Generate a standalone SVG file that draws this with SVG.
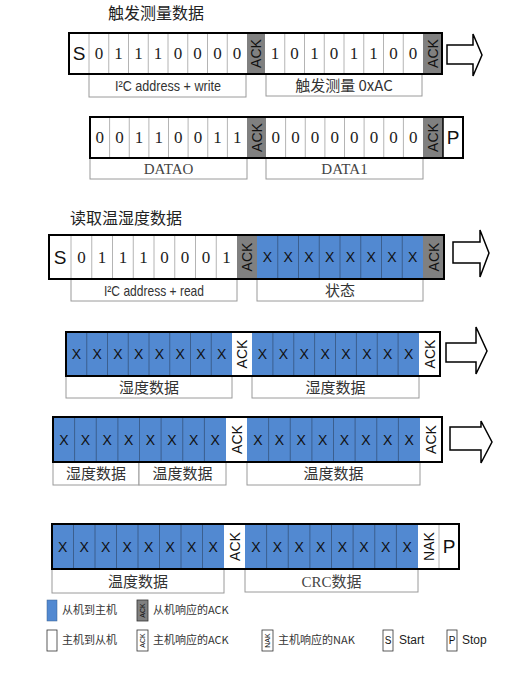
<svg xmlns="http://www.w3.org/2000/svg" width="525" height="676" viewBox="0 0 525 676">
<style>
.w{fill:#fff}
.b{fill:#5289d1}
.g{fill:#808080}
.dl{stroke:#b4b4b4;stroke-width:1;fill:none}
.db{stroke:#3b5f8f;stroke-width:1;fill:none}
.fr{fill:none;stroke:#000;stroke-width:2}
.lb{fill:#fff;stroke:#9a9a9a;stroke-width:1}
.bit{font-family:"Liberation Serif","DejaVu Serif",serif;font-size:17px;fill:#222;text-anchor:middle}
.x{font-family:"Liberation Sans","DejaVu Sans",sans-serif;font-size:14px;fill:#111;text-anchor:middle}
.sp{font-family:"Liberation Sans","DejaVu Sans",sans-serif;font-size:19px;fill:#111;text-anchor:middle}
.ack{font-family:"Liberation Sans","DejaVu Sans",sans-serif;font-size:14px;fill:#111;text-anchor:middle;dominant-baseline:central}
.en{font-family:"Liberation Sans","DejaVu Sans",sans-serif;font-size:15px;fill:#333;text-anchor:middle}
.cn{font-family:"Noto Sans CJK SC","Noto Sans",sans-serif;font-size:15px;fill:#333;text-anchor:middle}
.se{font-family:"Liberation Serif","Noto Sans CJK SC",serif;font-size:15px;fill:#444;text-anchor:middle}
.ttl{font-family:"Noto Sans CJK SC",sans-serif;font-size:16px;fill:#222}
.lg{font-family:"Noto Sans CJK SC","Liberation Serif",sans-serif;font-size:11px;fill:#333}
.lge{font-family:"Liberation Sans",sans-serif;font-size:12px;fill:#222}
.arr{fill:#fff;stroke:#000;stroke-width:1.5;stroke-linejoin:miter}
.tiny{font-family:"Liberation Sans",sans-serif;font-size:7px;fill:#111;text-anchor:middle;dominant-baseline:central}
</style>

<text class="ttl" x="108" y="19">触发测量数据</text>
<text class="ttl" x="70" y="224">读取温湿度数据</text>

<!-- Row 1 -->
<g id="row1">
<rect class="lb" x="89" y="74" width="157" height="23"/>
<rect class="lb" x="266" y="74" width="156" height="22"/>
<rect class="w" x="69" y="33" width="373" height="41"/>
<rect class="g" x="247" y="33" width="18" height="41"/>
<rect class="g" x="423" y="33" width="19" height="41"/>
<path class="dl" d="M89,33V74M108.75,33V74M128.5,33V74M148.25,33V74M168,33V74M187.75,33V74M207.5,33V74M227.25,33V74M284.75,33V74M304.5,33V74M324.25,33V74M344,33V74M363.75,33V74M383.5,33V74M403.25,33V74"/>
<rect class="fr" x="69" y="33" width="373" height="41"/>
<text class="sp" x="79" y="60">S</text>
<g class="bit">
<text x="98.9" y="59">0</text><text x="118.6" y="59">1</text><text x="138.4" y="59">1</text><text x="158.1" y="59">1</text><text x="177.9" y="59">0</text><text x="197.6" y="59">0</text><text x="217.4" y="59">0</text><text x="237.1" y="59">0</text>
<text x="274.9" y="59">1</text><text x="294.6" y="59">0</text><text x="314.4" y="59">1</text><text x="334.1" y="59">0</text><text x="353.9" y="59">1</text><text x="373.6" y="59">1</text><text x="393.4" y="59">0</text><text x="413.1" y="59">0</text>
</g>
<text class="ack" transform="translate(256,53.5) rotate(-90)">ACK</text>
<text class="ack" transform="translate(432.5,53.5) rotate(-90)">ACK</text>
<text class="en" x="168" y="91" textLength="106" lengthAdjust="spacingAndGlyphs">I²C address + write</text>
<text class="cn" x="344" y="91">触发测量 0xAC</text>
</g>

<!-- Row 2 -->
<g id="row2">
<rect class="lb" x="90" y="158" width="157" height="21"/>
<rect class="lb" x="266" y="158" width="157" height="21"/>
<rect class="w" x="90" y="117" width="373" height="41"/>
<rect class="g" x="247" y="117" width="19" height="41"/>
<rect class="g" x="423" y="117" width="20" height="41"/>
<path class="dl" d="M109.6,117V158M129.25,117V158M148.9,117V158M168.5,117V158M188.1,117V158M207.75,117V158M227.4,117V158M285.6,117V158M305.25,117V158M324.9,117V158M344.5,117V158M364.1,117V158M383.75,117V158M403.4,117V158"/>
<path d="M443,117V158" stroke="#000" stroke-width="1.5"/>
<rect class="fr" x="90" y="117" width="373" height="41"/>
<g class="bit">
<text x="99.8" y="143">0</text><text x="119.4" y="143">0</text><text x="139.1" y="143">1</text><text x="158.7" y="143">1</text><text x="178.3" y="143">0</text><text x="197.9" y="143">0</text><text x="217.6" y="143">1</text><text x="237.2" y="143">1</text>
<text x="275.8" y="143">0</text><text x="295.4" y="143">0</text><text x="315.1" y="143">0</text><text x="334.7" y="143">0</text><text x="354.3" y="143">0</text><text x="373.9" y="143">0</text><text x="393.6" y="143">0</text><text x="413.2" y="143">0</text>
</g>
<text class="ack" transform="translate(256.5,137.5) rotate(-90)">ACK</text>
<text class="ack" transform="translate(433,137.5) rotate(-90)">ACK</text>
<text class="sp" x="453" y="144">P</text>
<text class="se" x="168.5" y="174">DATAO</text>
<text class="se" x="344.5" y="174">DATA1</text>
</g>

<!-- Row 3 -->
<g id="row3">
<rect class="lb" x="71" y="279" width="166" height="22"/>
<rect class="lb" x="257" y="279" width="166" height="22"/>
<rect class="w" x="49" y="235" width="395" height="44"/>
<rect class="g" x="237" y="235" width="20" height="44"/>
<rect class="b" x="257" y="235" width="166" height="44"/>
<rect class="g" x="423" y="235" width="21" height="44"/>
<path class="dl" d="M71,235V279M91.75,235V279M112.5,235V279M133.25,235V279M154,235V279M174.75,235V279M195.5,235V279M216.25,235V279"/>
<path class="db" d="M277.75,235V279M298.5,235V279M319.25,235V279M340,235V279M360.75,235V279M381.5,235V279M402.25,235V279"/>
<rect class="fr" x="49" y="235" width="395" height="44"/>
<text class="sp" x="60" y="264">S</text>
<g class="bit">
<text x="81.4" y="263">0</text><text x="102.1" y="263">1</text><text x="122.9" y="263">1</text><text x="143.6" y="263">1</text><text x="164.4" y="263">0</text><text x="185.1" y="263">0</text><text x="205.9" y="263">0</text><text x="226.6" y="263">1</text>
</g>
<g class="x">
<text x="267.4" y="262">X</text><text x="288.1" y="262">X</text><text x="308.9" y="262">X</text><text x="329.6" y="262">X</text><text x="350.4" y="262">X</text><text x="371.1" y="262">X</text><text x="391.9" y="262">X</text><text x="412.6" y="262">X</text>
</g>
<text class="ack" transform="translate(247,257) rotate(-90)">ACK</text>
<text class="ack" transform="translate(433.5,257) rotate(-90)">ACK</text>
<text class="en" x="154" y="296" textLength="100" lengthAdjust="spacingAndGlyphs">I²C address + read</text>
<text class="cn" x="340" y="296">状态</text>
</g>

<!-- Row 4 -->
<g id="row4">
<rect class="lb" x="66" y="376" width="166" height="22"/>
<rect class="lb" x="252" y="376" width="167" height="22"/>
<rect class="w" x="66" y="332" width="374" height="44"/>
<rect class="b" x="66" y="332" width="166" height="44"/>
<rect class="b" x="252" y="332" width="167" height="44"/>
<path class="db" d="M86.75,332V376M107.5,332V376M128.25,332V376M149,332V376M169.75,332V376M190.5,332V376M211.25,332V376M272.9,332V376M293.75,332V376M314.6,332V376M335.5,332V376M356.4,332V376M377.25,332V376M398.1,332V376"/>
<rect class="fr" x="66" y="332" width="374" height="44"/>
<g class="x">
<text x="76.4" y="359">X</text><text x="97.1" y="359">X</text><text x="117.9" y="359">X</text><text x="138.6" y="359">X</text><text x="159.4" y="359">X</text><text x="180.1" y="359">X</text><text x="200.9" y="359">X</text><text x="221.6" y="359">X</text>
<text x="262.4" y="359">X</text><text x="283.3" y="359">X</text><text x="304.2" y="359">X</text><text x="325.1" y="359">X</text><text x="346" y="359">X</text><text x="366.8" y="359">X</text><text x="387.7" y="359">X</text><text x="408.6" y="359">X</text>
</g>
<text class="ack" transform="translate(242,354) rotate(-90)">ACK</text>
<text class="ack" transform="translate(429.5,354) rotate(-90)">ACK</text>
<text class="cn" x="149" y="393">湿度数据</text>
<text class="cn" x="335.5" y="393">湿度数据</text>
</g>

<!-- Row 5 -->
<g id="row5">
<rect class="lb" x="53" y="462" width="86" height="23"/>
<rect class="lb" x="139" y="462" width="87" height="23"/>
<rect class="lb" x="247" y="462" width="173" height="23"/>
<rect class="w" x="53" y="417" width="389" height="45"/>
<rect class="b" x="53" y="417" width="173" height="45"/>
<rect class="b" x="247" y="417" width="173" height="45"/>
<path class="db" d="M74.6,417V462M96.25,417V462M117.9,417V462M139.5,417V462M161.1,417V462M182.75,417V462M204.4,417V462M268.6,417V462M290.25,417V462M311.9,417V462M333.5,417V462M355.1,417V462M376.75,417V462M398.4,417V462"/>
<rect class="fr" x="53" y="417" width="389" height="45"/>
<g class="x">
<text x="63.8" y="445">X</text><text x="85.4" y="445">X</text><text x="107.1" y="445">X</text><text x="128.7" y="445">X</text><text x="150.3" y="445">X</text><text x="171.9" y="445">X</text><text x="193.6" y="445">X</text><text x="215.2" y="445">X</text>
<text x="257.8" y="445">X</text><text x="279.4" y="445">X</text><text x="301.1" y="445">X</text><text x="322.7" y="445">X</text><text x="344.3" y="445">X</text><text x="365.9" y="445">X</text><text x="387.6" y="445">X</text><text x="409.2" y="445">X</text>
</g>
<text class="ack" transform="translate(236.5,439.5) rotate(-90)">ACK</text>
<text class="ack" transform="translate(431,439.5) rotate(-90)">ACK</text>
<text class="cn" x="96" y="479">湿度数据</text>
<text class="cn" x="182.5" y="479">温度数据</text>
<text class="cn" x="333.5" y="479">温度数据</text>
</g>

<!-- Row 6 -->
<g id="row6">
<rect class="lb" x="52" y="569" width="172" height="24"/>
<rect class="lb" x="245" y="569" width="173" height="23"/>
<rect class="w" x="52" y="524" width="407" height="45"/>
<rect class="b" x="52" y="524" width="172" height="45"/>
<rect class="b" x="245" y="524" width="173" height="45"/>
<path class="db" d="M73.5,524V569M95,524V569M116.5,524V569M138,524V569M159.5,524V569M181,524V569M202.5,524V569M266.6,524V569M288.25,524V569M309.9,524V569M331.5,524V569M353.1,524V569M374.75,524V569M396.4,524V569"/>
<path class="dl" d="M439,524V569"/>
<rect class="fr" x="52" y="524" width="407" height="45"/>
<g class="x">
<text x="62.75" y="552">X</text><text x="84.25" y="552">X</text><text x="105.75" y="552">X</text><text x="127.25" y="552">X</text><text x="148.75" y="552">X</text><text x="170.25" y="552">X</text><text x="191.75" y="552">X</text><text x="213.25" y="552">X</text>
<text x="255.8" y="552">X</text><text x="277.4" y="552">X</text><text x="299.1" y="552">X</text><text x="320.7" y="552">X</text><text x="342.3" y="552">X</text><text x="363.9" y="552">X</text><text x="385.6" y="552">X</text><text x="407.2" y="552">X</text>
</g>
<text class="ack" transform="translate(234.5,546.5) rotate(-90)">ACK</text>
<text class="ack" transform="translate(428.5,546.5) rotate(-90)">NAK</text>
<text class="sp" x="449" y="553">P</text>
<text class="cn" x="138" y="587">温度数据</text>
<text class="se" x="331.5" y="587">CRC<tspan font-family="Noto Sans CJK SC">数据</tspan></text>
</g>

<!-- Arrows -->
<g id="connectors">
<path class="arr" d="M447,45H473V34L482,55L473,76V64H447Z"/>
<path class="arr" d="M453,242H480V230L489,253L480,277V263H453Z"/>
<path class="arr" d="M446,343H476V327L487,351L476,374V362H446Z"/>
<path class="arr" d="M450,427H481V421L492,442L481,463V450H450Z"/>
</g>

<!-- Legend -->
<g id="legend">
<rect x="47" y="600" width="10" height="21" fill="#5289d1" stroke="#3b5f8f" stroke-width="0.5"/>
<text class="lg" x="62" y="614">从机到主机</text>
<rect x="137" y="600" width="11" height="21" fill="#808080" stroke="#333" stroke-width="0.8"/>
<text class="tiny" transform="translate(142.5,610.5) rotate(-90)">ACK</text>
<text class="lg" x="153" y="614">从机响应的ACK</text>

<rect x="47" y="630" width="10" height="21" fill="#fff" stroke="#333" stroke-width="0.8"/>
<text class="lg" x="62" y="644">主机到从机</text>
<rect x="137" y="630" width="11" height="21" fill="#fff" stroke="#333" stroke-width="0.8"/>
<text class="tiny" transform="translate(142.5,640.5) rotate(-90)">ACK</text>
<text class="lg" x="153" y="644">主机响应的ACK</text>
<rect x="262" y="630" width="11" height="21" fill="#fff" stroke="#333" stroke-width="0.8"/>
<text class="tiny" transform="translate(267.5,640.5) rotate(-90)">NAK</text>
<text class="lg" x="278" y="644">主机响应的NAK</text>
<rect x="383" y="630" width="10" height="21" fill="#fff" stroke="#333" stroke-width="0.8"/>
<text x="388" y="644" font-family="Liberation Sans,sans-serif" font-size="10" text-anchor="middle" fill="#111">S</text>
<text class="lge" x="399" y="644">Start</text>
<rect x="447" y="630" width="10" height="21" fill="#fff" stroke="#333" stroke-width="0.8"/>
<text x="452" y="644" font-family="Liberation Sans,sans-serif" font-size="10" text-anchor="middle" fill="#111">P</text>
<text class="lge" x="462" y="644">Stop</text>
</g>
</svg>
